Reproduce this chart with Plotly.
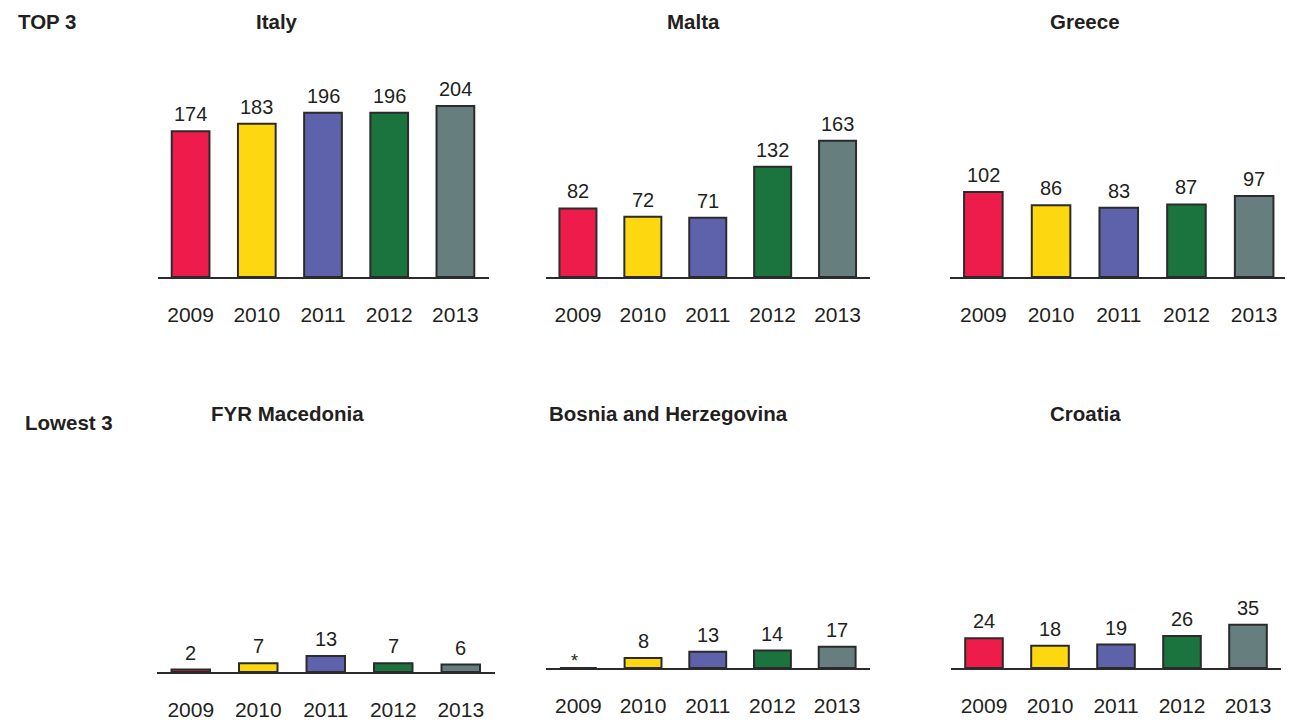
import plotly.graph_objects as go

# page body has an 8px margin in the viewer; figure is sized to fit the window
OFF = 8
W, H = 1293 - OFF, 723 - OFF

years = ["2009", "2010", "2011", "2012", "2013"]
year_colors = ["#ED1C4A", "#FDD70F", "#5E62AB", "#1B733D", "#677E7E"]

italy = [174, 183, 196, 196, 204]
malta = [82, 72, 71, 132, 163]
greece = [102, 86, 83, 87, 97]
macedonia = [2, 7, 13, 7, 6]
bosnia = [None, 8, 13, 14, 17]
croatia = [24, 18, 19, 26, 35]

countries = ["Italy", "Malta", "Greece", "FYR Macedonia", "Bosnia and Herzegovina", "Croatia"]
series = [italy, malta, greece, macedonia, bosnia, croatia]
group_labels = ["TOP 3", "Lowest 3"]


def px_x(p):
    return (p - OFF) / W


def px_y(p):
    return 1 - (p - OFF) / H


# layout geometry (window pixels): x-left, x-right, baseline, top, px per unit, title x, title y
geom = [
    (157.5, 488.5, 277, 40, 0.838, 277, 22),
    (545.5, 870.0, 277, 40, 0.836, 693, 22),
    (949.5, 1288.0, 277, 40, 0.834, 1085, 22),
    (157.0, 494.5, 672, 440, 1.235, 287, 413),
    (546.0, 869.5, 668, 440, 1.25, 669, 413),
    (951.0, 1281.0, 668, 440, 1.235, 1085, 413),
]

TXT = "#231F20"
FONT = "Liberation Sans, Arial, sans-serif"

fig = go.Figure()
annotations = []
layout_axes = {}

for i, (name, vals, g) in enumerate(zip(countries, series, geom)):
    x0, x1, base, top, ppu, tx, ty = g
    n = i + 1
    xa = "x" if n == 1 else f"x{n}"
    ya = "y" if n == 1 else f"y{n}"
    xkey = "xaxis" if n == 1 else f"xaxis{n}"
    ykey = "yaxis" if n == 1 else f"yaxis{n}"
    ymax = (base - top) / ppu
    fig.add_trace(go.Bar(
        x=years, y=[v if v is not None else 0 for v in vals],
        xaxis=xa, yaxis=ya,
        width=0.57,
        marker=dict(color=year_colors, line=dict(color="#2B2B2B", width=2)),
        showlegend=False, hoverinfo="x+y",
    ))
    layout_axes[xkey] = dict(
        domain=[px_x(x0), px_x(x1)], anchor=ya, type="category",
        range=[-0.5, 4.5], showline=True, linecolor="#2B2B2B", linewidth=2,
        showgrid=False, zeroline=False, ticks="", ticklabelstandoff=18,
        tickfont=dict(family=FONT, size=21, color=TXT), fixedrange=True,
    )
    layout_axes[ykey] = dict(
        domain=[px_y(base), px_y(top)], anchor=xa, range=[0, ymax],
        visible=False, fixedrange=True,
    )
    for k, v in enumerate(vals):
        if v is None:
            annotations.append(dict(
                x=k, y=0, xref=xa, yref=ya, text="*", showarrow=False,
                yanchor="bottom", yshift=-5, xshift=-4,
                font=dict(family=FONT, size=18, color=TXT),
            ))
        else:
            annotations.append(dict(
                x=k, y=v, xref=xa, yref=ya, text=str(v), showarrow=False,
                yanchor="bottom", yshift=4,
                font=dict(family=FONT, size=20, color=TXT),
            ))
    annotations.append(dict(
        x=px_x(tx), y=px_y(ty), xref="paper", yref="paper", text=f"<b>{name}</b>",
        showarrow=False, xanchor="center", yanchor="middle",
        font=dict(family=FONT, size=20.5, color=TXT),
    ))

annotations.append(dict(
    x=px_x(16), y=px_y(22), xref="paper", yref="paper", text=f"<b>{group_labels[0]}</b>",
    showarrow=False, xanchor="left", yanchor="middle",
    font=dict(family=FONT, size=20.5, color=TXT),
))
annotations.append(dict(
    x=px_x(23), y=px_y(422), xref="paper", yref="paper", text=f"<b>{group_labels[1]}</b>",
    showarrow=False, xanchor="left", yanchor="middle",
    font=dict(family=FONT, size=20.5, color=TXT),
))

fig.update_layout(
    width=W, height=H,
    margin=dict(l=0, r=0, t=0, b=0),
    paper_bgcolor="white", plot_bgcolor="white",
    font=dict(family=FONT, color=TXT),
    annotations=annotations,
    **layout_axes,
)

fig.write_html("out.html")
